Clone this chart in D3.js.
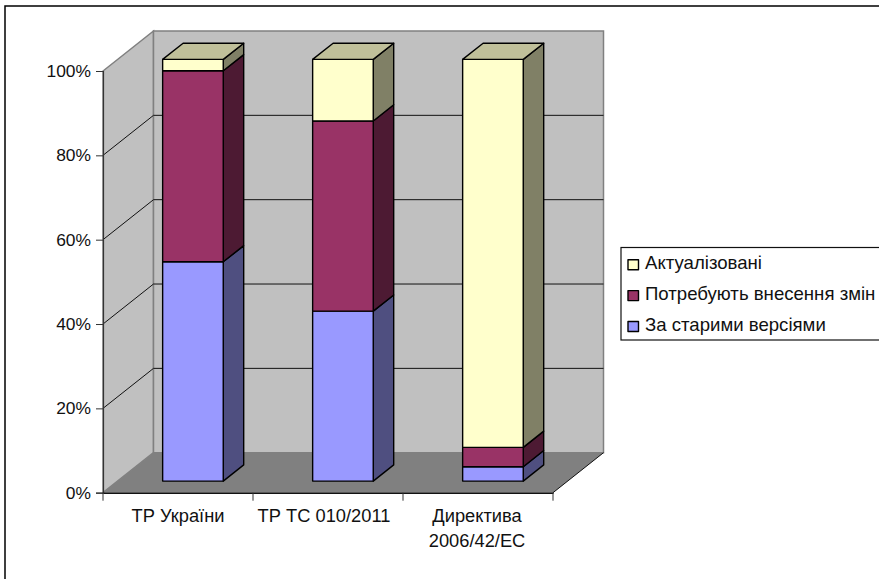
<!DOCTYPE html>
<html>
<head>
<meta charset="utf-8">
<script src="https://cdn.jsdelivr.net/npm/d3@7"></script>
<style>
  html, body { margin: 0; padding: 0; background: #fff; overflow: hidden; }
  svg { display: block; }
  text { font-family: "Liberation Sans", Arial, sans-serif; font-size: 18.3px; fill: #111; }
  .ytick text { font-size: 17.4px; }
  .legend text { font-size: 18.6px; }
</style>
</head>
<body>
<div id="chart"></div>
<script>
// values, percent of each column
var categories = ['ТР України', 'ТР ТС 010/2011', 'Директива\n2006/42/ЕС'];
var oldVersions = [52, 40.3, 3.4];
var needChanges = [45.3, 45.1, 4.6];
var updated = [2.7, 14.6, 92];
var yTicks = [0, 0.2, 0.4, 0.6, 0.8, 1];
var seriesNames = ['За старими версіями', 'Потребують внесення змін', 'Актуалізовані'];

var seriesFront = ['#9999ff', '#993366', '#ffffcc'];
var seriesSide = ['#4f4f80', '#4d1a33', '#808066'];
var topColor = '#c0c09a';

var width = 879, height = 579;
var svg = d3.select('#chart').append('svg').attr('width', width).attr('height', height);

// outer chart frame runs off the right and bottom of the picture
svg.append('rect')
    .attr('x', 5).attr('y', 6)
    .attr('width', width + 20).attr('height', height + 20)
    .attr('fill', '#fff').attr('stroke', '#000').attr('stroke-width', 1.5);

var x = d3.scaleBand().domain(categories).range([103, 553]);
var y = d3.scaleLinear().domain([0, 1]).range([492.7, 71]);

// oblique projection, depth 0 = front of the box, 1 = back wall
var depthX = 50.5, depthY = 40;
function px(v, d) { return v + d * depthX; }
function py(v, d) { return v - d * depthY; }
function pt(xv, yv, d) { return [px(xv, d), py(yv, d)]; }
function poly(points) { return d3.line()(points) + 'Z'; }

var x0 = x.range()[0], x1 = x.range()[1];

// walls and floor
svg.append('path')
    .attr('d', poly([pt(x0, y(1), 0), pt(x0, y(1), 1), pt(x0, y(0), 1), pt(x0, y(0), 0)]))
    .attr('fill', '#c0c0c0').attr('stroke', '#808080').attr('stroke-width', 1.5);
svg.append('path')
    .attr('d', poly([pt(x0, y(1), 1), pt(x1, y(1), 1), pt(x1, y(0), 1), pt(x0, y(0), 1)]))
    .attr('fill', '#c0c0c0').attr('stroke', '#808080').attr('stroke-width', 1.5);
svg.append('path')
    .attr('d', poly([pt(x0, y(0), 0), pt(x0, y(0), 1), pt(x1, y(0), 1), pt(x1, y(0), 0)]))
    .attr('fill', '#808080');
svg.append('path')
    .attr('d', d3.line()([pt(x1, y(0), 0), pt(x1, y(0), 1)]))
    .attr('fill', 'none').attr('stroke', '#111').attr('stroke-width', 1);

// gridlines on both walls
svg.append('g').selectAll('path')
    .data(yTicks.slice(1, -1))
    .enter().append('path')
    .attr('d', function(t) {
        return d3.line()([pt(x0, y(t), 0), pt(x0, y(t), 1), pt(x1, y(t), 1)]);
    })
    .attr('fill', 'none').attr('stroke', '#111').attr('stroke-width', 1);

// y axis
var yAxis = svg.append('g')
    .attr('class', 'ytick')
    .attr('transform', 'translate(' + x0 + ',0)')
    .call(d3.axisLeft(y).tickValues(yTicks).tickFormat(d3.format('.0%')).tickSize(7).tickPadding(5));
yAxis.select('.domain').attr('stroke', '#333').attr('stroke-width', 1.2);
yAxis.selectAll('line').attr('stroke', '#333').attr('stroke-width', 1);

// x axis, ticks sit on the category boundaries
var xAxis = svg.append('g')
    .attr('transform', 'translate(0,' + y(0) + ')')
    .call(d3.axisBottom(x).tickSize(0).tickFormat(''));
xAxis.select('.domain').attr('stroke', '#111').attr('stroke-width', 1.6);
xAxis.selectAll('.boundary')
    .data(d3.range(categories.length + 1))
    .enter().append('line')
    .attr('class', 'boundary')
    .attr('x1', function(i) { return x0 + i * x.step(); })
    .attr('x2', function(i) { return x0 + i * x.step(); })
    .attr('y1', 0).attr('y2', 8)
    .attr('stroke', '#333').attr('stroke-width', 1);

// the labels are not quite centred on their bands in the original
var labelShift = d3.scaleOrdinal().domain(categories).range([0, -4, -1]);

var catLabels = svg.append('g').selectAll('text')
    .data(categories)
    .enter().append('text')
    .attr('text-anchor', 'middle')
    .attr('y', 521.5);
catLabels.selectAll('tspan')
    .data(function(c) { return c.split('\n').map(function(line) { return { c: c, line: line }; }); })
    .enter().append('tspan')
    .attr('x', function(d) { return x(d.c) + x.bandwidth() / 2 + labelShift(d.c); })
    .attr('dy', function(d, i) { return i ? 25 : 0; })
    .text(function(d) { return d.line; });

// stacked columns
var rows = categories.map(function(c, i) {
    return { category: c, s0: oldVersions[i], s1: needChanges[i], s2: updated[i] };
});
var stack = d3.stack().keys(['s0', 's1', 's2']).offset(d3.stackOffsetExpand)(rows);

var barDepth0 = 0.29, barDepth1 = 0.695;
var barW = 60.6;

function barLeft(cat) { return x(cat) + (x.bandwidth() - barW) / 2 + 0.3; }

function styled(sel) {
    return sel.attr('stroke', '#000')
        .attr('stroke-width', 1.4)
        .attr('stroke-linejoin', 'round');
}

categories.forEach(function(cat, i) {
    var g = svg.append('g').attr('class', 'bar');
    var l = barLeft(cat), r = l + barW;
    stack.forEach(function(layer, k) {
        var lo = y(layer[i][0]), hi = y(layer[i][1]);
        styled(g.append('path')
            .attr('d', poly([pt(r, lo, barDepth0), pt(r, hi, barDepth0), pt(r, hi, barDepth1), pt(r, lo, barDepth1)]))
            .attr('fill', seriesSide[k]));
        styled(g.append('path')
            .attr('d', poly([pt(l, lo, barDepth0), pt(r, lo, barDepth0), pt(r, hi, barDepth0), pt(l, hi, barDepth0)]))
            .attr('fill', seriesFront[k]));
    });
    var t = y(1);
    styled(g.append('path')
        .attr('d', poly([pt(l, t, barDepth0), pt(r, t, barDepth0), pt(r, t, barDepth1), pt(l, t, barDepth1)]))
        .attr('fill', topColor));
});

// legend, listed top series first
svg.append('rect')
    .attr('x', 621).attr('y', 247.5)
    .attr('width', width).attr('height', 92.5)
    .attr('fill', '#fff').attr('stroke', '#111').attr('stroke-width', 1.2);

var legendY = d3.scalePoint()
    .domain(seriesNames.slice().reverse())
    .range([264.7, 326.5]);

var legend = svg.append('g').attr('class', 'legend').selectAll('g')
    .data(seriesNames)
    .enter().append('g')
    .attr('transform', function(d) { return 'translate(628,' + legendY(d) + ')'; });

styled(legend.append('rect')
    .attr('y', -5).attr('width', 10.5).attr('height', 10)
    .attr('fill', function(d, i) { return seriesFront[i]; }));

legend.append('text')
    .attr('x', 17).attr('y', 4.5)
    .text(function(d) { return d; });
</script>
</body>
</html>
